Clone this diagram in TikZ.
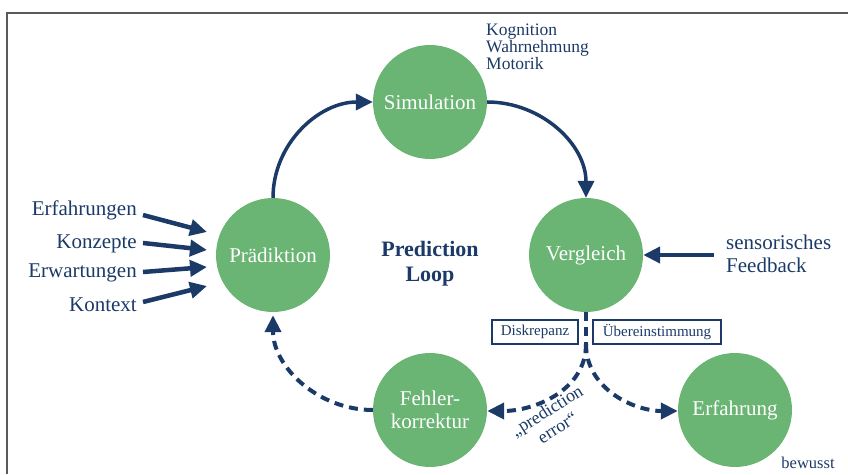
\documentclass[tikz,border=0pt]{standalone}
\usepackage{fontspec}
\setmainfont{Liberation Serif}
\usetikzlibrary{arrows.meta}
\definecolor{circgreen}{HTML}{6AB574}
\definecolor{navy}{HTML}{1B3A68}
\definecolor{framegray}{HTML}{5A5A5A}
\tikzset{
  circ/.style={circle, fill=circgreen, minimum size=114pt, inner sep=0pt, text=white, align=center, font=\fontsize{21}{23}\selectfont},
  lbl/.style={text=navy, inner sep=0pt},
  biglbl/.style={lbl, font=\fontsize{21}{23}\selectfont},
  smalllbl/.style={lbl, font=\fontsize{17.5}{17}\selectfont, align=left},
  boxlbl/.style={draw=navy, line width=1.2pt, text=navy, inner sep=0pt, minimum height=24pt, font=\fontsize{15}{16}\selectfont},
  inarrow/.style={navy, line width=4.5pt, -{Triangle[length=17pt,width=16pt]}},
  looparrow/.style={navy, line width=3.5pt, -{Triangle[length=17pt,width=16pt]}},
  dasharrow/.style={navy, line width=4pt, dash pattern=on 9pt off 6pt, -{Triangle[length=17pt,width=16pt]}},
  dashline/.style={navy, line width=4pt, dash pattern=on 9pt off 6pt}
}
\begin{document}
\begin{tikzpicture}[x=1pt,y=1pt]
\useasboundingbox (0,0) rectangle (848,474);
\draw[framegray, line width=2.5pt] (7,0) -- (7,461) -- (848,461);

\node[circ] (S) at (430,372) {Simulation};
\node[circ] (P) at (273,219) {Prädiktion};
\node[circ] (V) at (586,219) {Vergleich};
\node[circ] (F) at (430,64) {Fehler-\\korrektur};
\node[circ] (E) at (735,64) {Erfahrung};

\node[smalllbl, anchor=west] (K) at (486,427) {Kognition\\Wahrnehmung\\Motorik};

\node[biglbl, anchor=east] (t1) at (137,264) {Erfahrungen};
\node[biglbl, anchor=east] (t2) at (137,230) {Konzepte};
\node[biglbl, anchor=east] (t3) at (137,201) {Erwartungen};
\node[biglbl, anchor=east] (t4) at (137,169) {Kontext};

\coordinate (a1) at (143,259); \coordinate (b1) at (207,242);
\coordinate (a2) at (143,231); \coordinate (b2) at (207,224);
\coordinate (a3) at (143,202); \coordinate (b3) at (207,207);
\coordinate (a4) at (143,172); \coordinate (b4) at (207,188);
\draw[inarrow] (a1) -- (b1);
\draw[inarrow] (a2) -- (b2);
\draw[inarrow] (a3) -- (b3);
\draw[inarrow] (a4) -- (b4);

\node[lbl, align=center, font=\bfseries\fontsize{22}{25}\selectfont] (PL) at (430,210) {Prediction\\Loop};

\node[biglbl, anchor=west, align=left] (SF) at (726,220) {sensorisches\\Feedback};
\coordinate (sfa) at (714,219);
\draw[inarrow] (sfa) -- (V.east);

\draw[looparrow] (P.north) to[out=90,in=180] (S.west);
\draw[looparrow] (S.east) to[out=0,in=90] (V.north);

\node[boxlbl, minimum width=86pt] (D) at (535,142) {Diskrepanz};
\node[boxlbl, minimum width=128pt] (U) at (657,142) {Übereinstimmung};

\coordinate (split) at (586,130);
\draw[dashline] (V.south) -- (split);
\draw[dasharrow] (split) to[out=-90,in=0] ([yshift=-1pt]F.east);
\draw[dasharrow] (split) to[out=-90,in=180] ([yshift=-1pt]E.west);
\draw[dasharrow, shorten >=3pt] (F.west) to[out=180,in=-90] (P.south);

\node[lbl, align=center, rotate=32, font=\fontsize{18}{20}\selectfont] (PE) at (552,55) {„prediction\\error“};

\node[lbl, font=\fontsize{16.5}{17}\selectfont] (bw) at (808,11) {bewusst};
\end{tikzpicture}
\end{document}
